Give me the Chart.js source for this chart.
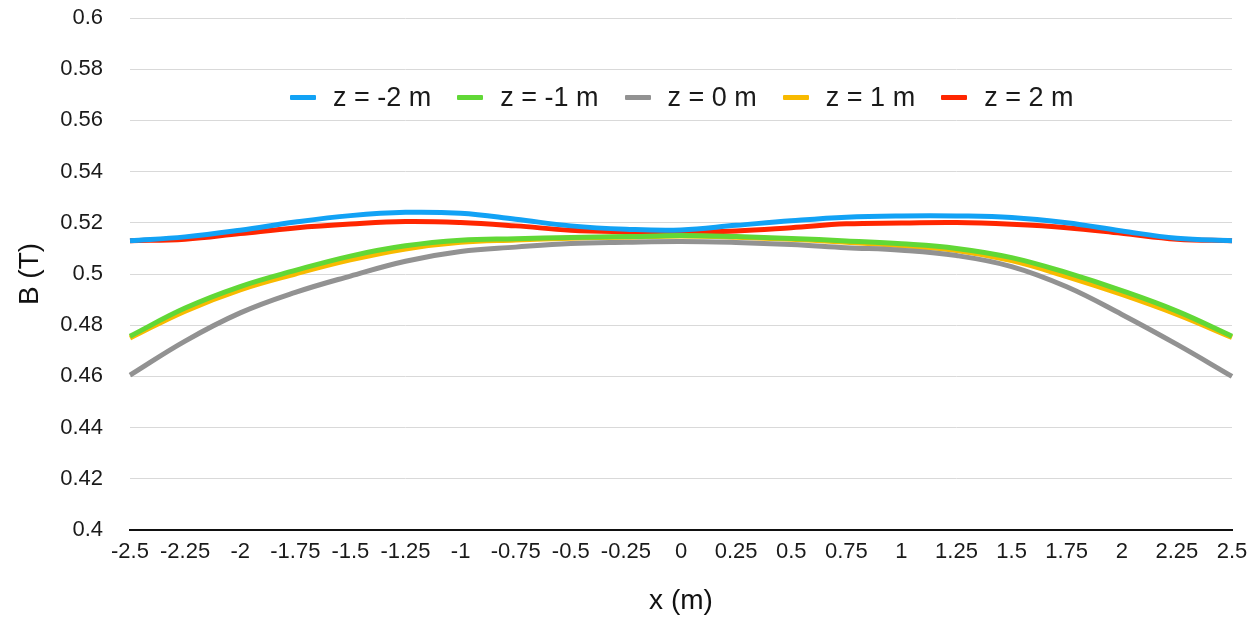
<!DOCTYPE html>
<html>
<head>
<meta charset="utf-8">
<script src="https://cdn.jsdelivr.net/npm/chart.js@4.4.1/dist/chart.umd.min.js"></script>
<style>
    body { margin: 0; background: #fff; }
    #wrap { position: relative; width: 1257px; height: 618px; }
    #legend { position: absolute; top: 82px; left: 290px; display: flex; align-items: center;
        font-family: "Liberation Sans", Arial, sans-serif; font-size: 27px; color: #1a1a1a; white-space: nowrap; }
    #legend .item { display: flex; align-items: center; margin-right: 26px; }
    #legend .mark { width: 26px; height: 5px; margin-right: 17px; border-radius: 1px; }
</style>
</head>
<body>
<div id="wrap">
    <canvas id="grafico" width="1257" height="618"></canvas>
    <div id="legend"></div>
</div>
<script>
const posiciones = ["-2.5", "-2.25", "-2", "-1.75", "-1.5", "-1.25", "-1", "-0.75", "-0.5", "-0.25",
    "0", "0.25", "0.5", "0.75", "1", "1.25", "1.5", "1.75", "2", "2.25", "2.5"];

const zMenos2 = [0.5130, 0.5145, 0.5171, 0.5203, 0.5228, 0.5241, 0.5237, 0.5214, 0.5188, 0.5175,
    0.5172, 0.5190, 0.5208, 0.5222, 0.5227, 0.5227, 0.5221, 0.5200, 0.5168, 0.5140, 0.5130];
const zMenos1 = [0.4757, 0.4867, 0.4951, 0.5014, 0.5070, 0.5110, 0.5132, 0.5138, 0.5143, 0.5146,
    0.5150, 0.5146, 0.5139, 0.5129, 0.5118, 0.5100, 0.5064, 0.5005, 0.4935, 0.4855, 0.4757];
const zCero = [0.4605, 0.4738, 0.4848, 0.4928, 0.4992, 0.5050, 0.5088, 0.5105, 0.5119, 0.5124,
    0.5127, 0.5123, 0.5115, 0.5103, 0.5093, 0.5072, 0.5029, 0.4950, 0.4842, 0.4725, 0.4600];
const zMas1 = [0.4750, 0.4855, 0.4938, 0.5000, 0.5055, 0.5098, 0.5124, 0.5133, 0.5140, 0.5144,
    0.5148, 0.5144, 0.5136, 0.5124, 0.5110, 0.5092, 0.5052, 0.4990, 0.4920, 0.4842, 0.4752];
const zMas2 = [0.5130, 0.5136, 0.5158, 0.5180, 0.5195, 0.5205, 0.5201, 0.5188, 0.5171, 0.5165,
    0.5163, 0.5168, 0.5181, 0.5196, 0.5199, 0.5201, 0.5194, 0.5181, 0.5159, 0.5136, 0.5130];

const nombres = ["z = -2 m", "z = -1 m", "z = 0 m", "z = 1 m", "z = 2 m"];
const colores = ["#12A2F5", "#61D836", "#929292", "#F8BA00", "#FF2600"];
const series = [zMenos2, zMenos1, zCero, zMas1, zMas2];

const fuente = "'Liberation Sans', Arial, sans-serif";

const datasets = series.map((valores, i) => ({
    label: nombres[i],
    data: valores,
    borderColor: colores[i],
    backgroundColor: colores[i],
    borderWidth: 5,
    pointRadius: 0,
    tension: 0.4,
    fill: false
}));

const ctx = document.getElementById("grafico").getContext("2d");
new Chart(ctx, {
    type: "line",
    data: { labels: posiciones, datasets: datasets },
    options: {
        responsive: false,
        animation: false,
        layout: { padding: { top: 18, right: 25, bottom: 0, left: 0 } },
        plugins: { legend: { display: false }, tooltip: { enabled: false } },
        scales: {
            x: {
                grid: { display: false, drawTicks: false },
                border: { display: true, color: "#111", width: 2 },
                ticks: { color: "#1a1a1a", font: { family: fuente, size: 22 }, padding: 9, maxRotation: 0, autoSkip: false },
                title: { display: true, text: "x (m)", color: "#111", font: { family: fuente, size: 28 }, padding: { top: 0, bottom: 0 } },
                afterFit: scale => { scale.height = 88; }
            },
            y: {
                min: 0.4,
                max: 0.6,
                grid: { color: "#d9d9d9", lineWidth: 1, drawTicks: false },
                border: { display: false },
                ticks: {
                    stepSize: 0.02,
                    color: "#1a1a1a",
                    font: { family: fuente, size: 22 },
                    padding: 27,
                    callback: v => parseFloat(v.toFixed(2)).toString()
                },
                title: { display: true, text: "B (T)", color: "#111", font: { family: fuente, size: 28 }, padding: { top: 13, bottom: 0 } },
                afterFit: scale => {
                    scale.width = 130;
                    scale.paddingTop = 0;
                    scale.paddingBottom = 0;
                }
            }
        }
    }
});

// leyenda en html
const leyenda = document.getElementById("legend");
datasets.forEach(ds => {
    const item = document.createElement("div");
    item.className = "item";
    item.innerHTML = `<span class="mark" style="background:${ds.borderColor}"></span><span>${ds.label}</span>`;
    leyenda.appendChild(item);
});
</script>
</body>
</html>
